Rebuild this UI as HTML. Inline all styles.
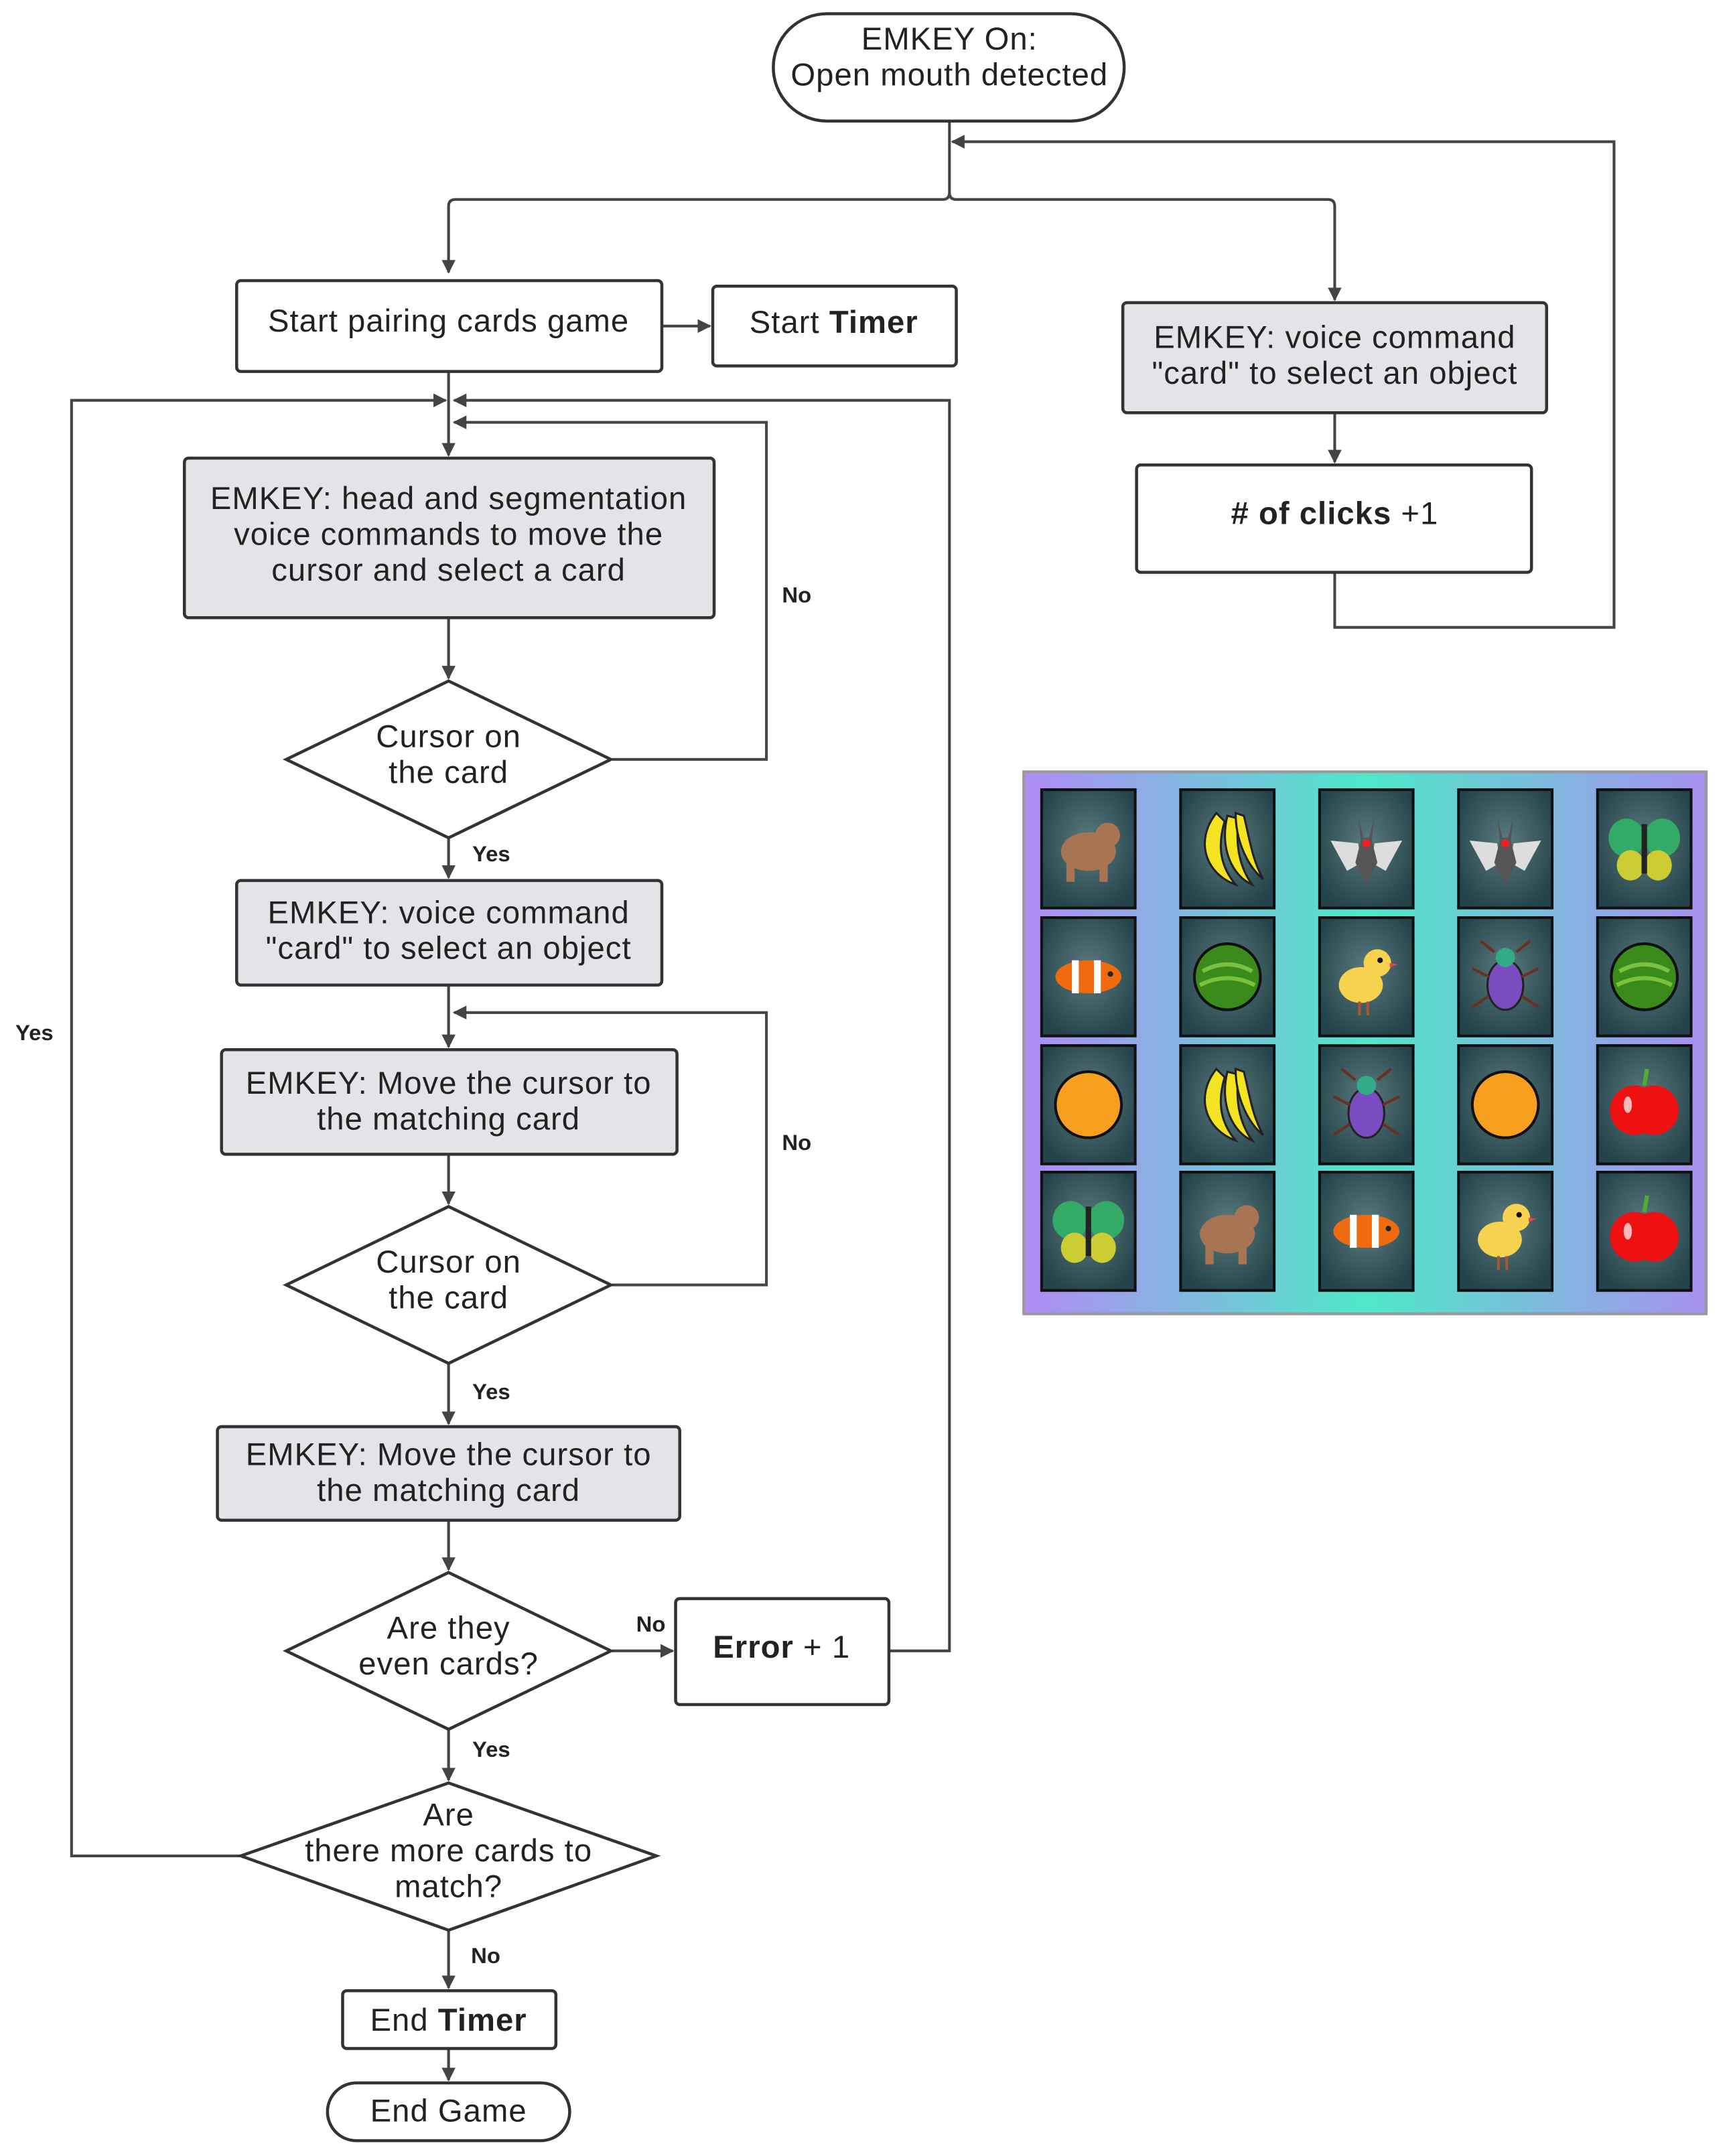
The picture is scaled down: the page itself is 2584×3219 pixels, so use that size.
<!DOCTYPE html>
<html><head><meta charset="utf-8"><style>html,body{margin:0;padding:0;background:#fff}svg{display:block}</style></head><body>
<svg width="2584" height="3219" viewBox="0 0 1258 1567" preserveAspectRatio="xMinYMin meet" xmlns="http://www.w3.org/2000/svg" font-family="Liberation Sans, sans-serif">
<defs>
<marker id="ar" markerWidth="10" markerHeight="10" refX="9" refY="5" orient="auto" markerUnits="userSpaceOnUse"><path d="M0,0 L10,5 L0,10 z" fill="#444"/></marker>
<linearGradient id="bg" x1="0" x2="1" y1="0" y2="0"><stop offset="0" stop-color="#b08cf5"/><stop offset="0.5" stop-color="#4ee8c8"/><stop offset="1" stop-color="#a890f0"/></linearGradient>
<radialGradient id="cd" cx="0.5" cy="0.45" r="0.6"><stop offset="0" stop-color="#5a7b80"/><stop offset="1" stop-color="#25434a"/></radialGradient>
<g id="bear"><ellipse cx="0" cy="2" rx="20" ry="14" fill="#a87554"/><circle cx="14" cy="-10" r="9" fill="#a87554"/><rect x="-16" y="10" width="6" height="14" fill="#a87554"/><rect x="8" y="10" width="6" height="14" fill="#a87554"/></g>
<g id="banana" fill="#f4e323" stroke="#222" stroke-width="1.5"><path d="M-8,-26 C-24,-6 -16,18 6,26 C-4,14 -8,0 -2,-20 z"/><path d="M0,-24 C-6,0 4,20 18,26 C8,12 6,-4 8,-22 z"/><path d="M6,-26 C6,-4 16,14 26,22 C18,8 16,-8 12,-24 z"/></g>
<g id="bat"><path d="M-26,-6 L-6,-4 L0,26 L6,-4 L26,-6 L14,16 L0,8 L-14,16 z" fill="#ddd"/><path d="M-6,-24 L-4,-6 L-8,10 L0,26 L8,10 L4,-6 L6,-24 L2,-8 L-2,-8 z" fill="#555"/><circle cx="0" cy="-4" r="3" fill="#e22"/></g>
<g id="butterfly"><ellipse cx="-13" cy="-8" rx="13" ry="14" fill="#3a6"/><ellipse cx="13" cy="-8" rx="13" ry="14" fill="#3a6"/><ellipse cx="-10" cy="12" rx="10" ry="11" fill="#cc3"/><ellipse cx="10" cy="12" rx="10" ry="11" fill="#cc3"/><rect x="-2" y="-18" width="4" height="36" fill="#222"/></g>
<g id="fish"><ellipse cx="0" cy="0" rx="24" ry="12" fill="#f06a10"/><rect x="-12" y="-12" width="5" height="24" fill="#fff"/><rect x="4" y="-12" width="5" height="24" fill="#fff"/><circle cx="16" cy="-2" r="2" fill="#222"/></g>
<g id="melon"><circle r="24" fill="#3a8a1c" stroke="#111" stroke-width="2"/><path d="M-18,-4 Q0,-14 18,-4 M-20,6 Q0,-4 20,6" stroke="#7cc040" stroke-width="3" fill="none"/></g>
<g id="chick"><ellipse cx="-4" cy="6" rx="16" ry="13" fill="#f6d24e"/><circle cx="8" cy="-10" r="10" fill="#f6d24e"/><circle cx="10" cy="-12" r="2" fill="#111"/><path d="M17,-10 l6,1 l-6,2z" fill="#e44"/><rect x="-6" y="18" width="2" height="10" fill="#a53"/><rect x="0" y="18" width="2" height="10" fill="#a53"/></g>
<g id="beetle"><ellipse cx="0" cy="6" rx="13" ry="18" fill="#7a4cc0" stroke="#222" stroke-width="1.5"/><circle cx="0" cy="-14" r="7" fill="#3a8"/><path d="M-8,-18 L-18,-26 M8,-18 L18,-26 M-12,0 L-24,-6 M12,0 L24,-6 M-12,14 L-24,22 M12,14 L24,22" stroke="#6a3020" stroke-width="2"/></g>
<g id="orange"><circle r="24" fill="#f7a020" stroke="#111" stroke-width="2"/></g>
<g id="apple"><circle cx="-7" cy="4" r="18" fill="#e11"/><circle cx="7" cy="4" r="18" fill="#e11"/><path d="M0,-14 L2,-26" stroke="#5a3" stroke-width="3"/><ellipse cx="-12" cy="0" rx="3" ry="6" fill="#fff" opacity=".7"/></g>
</defs>
<g stroke="#444" stroke-width="2" fill="none">
<path d="M690,88 V140 Q690,145 685,145 H331 Q326,145 326,150 V198" marker-end="url(#ar)"/>
<path d="M690,140 Q690,145 695,145 H965 Q970,145 970,150 V218" marker-end="url(#ar)"/>
<path d="M970,416 V456 H1173 V103 H692" marker-end="url(#ar)"/>
<path d="M481,237 H516" marker-end="url(#ar)"/>
<path d="M970,300 V336" marker-end="url(#ar)"/>
<path d="M326,270 V331" marker-end="url(#ar)"/>
<path d="M175,1349 H52 V291 H324" marker-end="url(#ar)"/>
<path d="M646,1200 H690 V291 H330" marker-end="url(#ar)"/>
<path d="M445,552 H557 V307 H330" marker-end="url(#ar)"/>
<path d="M326,449 V493" marker-end="url(#ar)"/>
<path d="M326,609 V638" marker-end="url(#ar)"/>
<path d="M326,716 V761" marker-end="url(#ar)"/>
<path d="M445,934 H557 V736 H330" marker-end="url(#ar)"/>
<path d="M326,839 V875" marker-end="url(#ar)"/>
<path d="M326,991 V1035" marker-end="url(#ar)"/>
<path d="M326,1105 V1141" marker-end="url(#ar)"/>
<path d="M445,1200 H489" marker-end="url(#ar)"/>
<path d="M326,1257 V1294" marker-end="url(#ar)"/>
<path d="M326,1403 V1445" marker-end="url(#ar)"/>
<path d="M326,1489 V1512" marker-end="url(#ar)"/>
</g>
<g stroke="#333" stroke-width="2.2">
<rect x="562" y="10" width="255" height="78" rx="39" fill="#fff"/>
<rect x="172" y="204" width="309" height="66" rx="3" fill="#fff"/>
<rect x="518" y="208" width="177" height="58" rx="3" fill="#fff"/>
<rect x="816" y="220" width="308" height="80" rx="3" fill="#e2e4e8"/>
<rect x="826" y="338" width="287" height="78" rx="3" fill="#fff"/>
<rect x="134" y="333" width="385" height="116" rx="3" fill="#e2e4e8"/>
<path d="M326,495 L444,552 L326,609 L208,552 z" fill="#fff"/>
<rect x="172" y="640" width="309" height="76" rx="3" fill="#e2e4e8"/>
<rect x="161" y="763" width="331" height="76" rx="3" fill="#e2e4e8"/>
<path d="M326,877 L444,934 L326,991 L208,934 z" fill="#fff"/>
<rect x="158" y="1037" width="336" height="68" rx="3" fill="#e2e4e8"/>
<path d="M326,1143 L444,1200 L326,1257 L208,1200 z" fill="#fff"/>
<rect x="491" y="1162" width="155" height="77" rx="3" fill="#fff"/>
<path d="M326,1296 L477,1349 L326,1403 L175,1349 z" fill="#fff"/>
<rect x="249" y="1447" width="155" height="42" rx="3" fill="#fff"/>
<rect x="238" y="1514" width="176" height="42" rx="21" fill="#fff"/>
</g>
<g font-size="23" letter-spacing="0.5" fill="#222" text-anchor="middle">
<text x="690" y="36">EMKEY On:</text><text x="690" y="62">Open mouth detected</text>
<text x="326" y="241">Start pairing cards game</text>
<text x="606" y="242">Start <tspan font-weight="bold">Timer</tspan></text>
<text x="970" y="253">EMKEY: voice command</text><text x="970" y="279">"card" to select an object</text>
<text x="970" y="381"><tspan font-weight="bold"># of clicks</tspan> +1</text>
<text x="326" y="370">EMKEY: head and segmentation</text><text x="326" y="396">voice commands to move the</text><text x="326" y="422">cursor and select a card</text>
<text x="326" y="543">Cursor on</text><text x="326" y="569">the card</text>
<text x="326" y="671">EMKEY: voice command</text><text x="326" y="697">"card" to select an object</text>
<text x="326" y="795">EMKEY: Move the cursor to</text><text x="326" y="821">the matching card</text>
<text x="326" y="925">Cursor on</text><text x="326" y="951">the card</text>
<text x="326" y="1065">EMKEY: Move the cursor to</text><text x="326" y="1091">the matching card</text>
<text x="326" y="1191">Are they</text><text x="326" y="1217">even cards?</text>
<text x="568" y="1205"><tspan font-weight="bold">Error</tspan> + 1</text>
<text x="326" y="1327">Are</text><text x="326" y="1353">there more cards to</text><text x="326" y="1379">match?</text>
<text x="326" y="1476">End <tspan font-weight="bold">Timer</tspan></text>
<text x="326" y="1542">End Game</text>
</g>
<g font-size="16" font-weight="bold" fill="#222" text-anchor="middle">
<text x="579" y="438">No</text><text x="579" y="836">No</text><text x="25" y="756">Yes</text>
<text x="473" y="1186">No</text><text x="357" y="626">Yes</text><text x="357" y="1017">Yes</text><text x="357" y="1277">Yes</text><text x="353" y="1427">No</text>
</g>
<rect x="744" y="561" width="496" height="394" fill="url(#bg)" stroke="#999" stroke-width="2"/>
<g stroke="#111" stroke-width="2" fill="url(#cd)">
<rect x="757" y="574" width="68" height="86"/><rect x="858" y="574" width="68" height="86"/><rect x="959" y="574" width="68" height="86"/><rect x="1060" y="574" width="68" height="86"/><rect x="1161" y="574" width="68" height="86"/>
<rect x="757" y="667" width="68" height="86"/><rect x="858" y="667" width="68" height="86"/><rect x="959" y="667" width="68" height="86"/><rect x="1060" y="667" width="68" height="86"/><rect x="1161" y="667" width="68" height="86"/>
<rect x="757" y="760" width="68" height="86"/><rect x="858" y="760" width="68" height="86"/><rect x="959" y="760" width="68" height="86"/><rect x="1060" y="760" width="68" height="86"/><rect x="1161" y="760" width="68" height="86"/>
<rect x="757" y="852" width="68" height="86"/><rect x="858" y="852" width="68" height="86"/><rect x="959" y="852" width="68" height="86"/><rect x="1060" y="852" width="68" height="86"/><rect x="1161" y="852" width="68" height="86"/>
</g>
<use href="#bear" x="791" y="617"/><use href="#banana" x="892" y="617"/><use href="#bat" x="993" y="617"/><use href="#bat" x="1094" y="617"/><use href="#butterfly" x="1195" y="617"/>
<use href="#fish" x="791" y="710"/><use href="#melon" x="892" y="710"/><use href="#chick" x="993" y="710"/><use href="#beetle" x="1094" y="710"/><use href="#melon" x="1195" y="710"/>
<use href="#orange" x="791" y="803"/><use href="#banana" x="892" y="803"/><use href="#beetle" x="993" y="803"/><use href="#orange" x="1094" y="803"/><use href="#apple" x="1195" y="803"/>
<use href="#butterfly" x="791" y="895"/><use href="#bear" x="892" y="895"/><use href="#fish" x="993" y="895"/><use href="#chick" x="1094" y="895"/><use href="#apple" x="1195" y="895"/>
</svg>
</body></html>
